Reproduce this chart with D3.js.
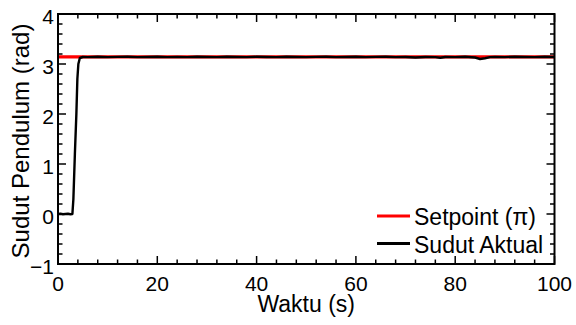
<!DOCTYPE html>
<html>
<head>
<meta charset="utf-8">
<script src="https://cdn.jsdelivr.net/npm/d3@7"></script>
<style>
  html, body { margin: 0; padding: 0; background: #fff; }
  svg { display: block; font-family: "Liberation Sans", Arial, sans-serif; }
</style>
</head>
<body>
<div id="chart"></div>
<script>
// setpoint is pi across the whole run
const setpointT = [0, 100];
const setpointV = [Math.PI, Math.PI];

const actualT = [0, 0.5, 1, 1.5, 2, 2.5, 2.9, 3.1, 3.4, 3.7, 3.9, 4.1, 4.4, 5,
  6, 8, 10, 12, 14, 16, 18, 20, 22, 24, 26, 28, 30, 32, 34, 36, 38, 40,
  42, 44, 46, 48, 50, 52, 54, 56, 58, 60, 62, 64, 66, 68, 70, 72, 74, 76,
  77, 78, 80, 82, 84, 85, 86, 87, 88, 90, 92, 94, 96, 98, 100];
const actualV = [0.0, 0.005, -0.005, 0.0, 0.005, -0.005, 0.0, 0.3, 1.2, 2.0, 2.7, 3.0, 3.12, 3.14,
  3.137, 3.145, 3.138, 3.142, 3.146, 3.137, 3.141, 3.145, 3.138, 3.142, 3.137, 3.145, 3.141, 3.137, 3.146, 3.141, 3.138, 3.145,
  3.141, 3.137, 3.145, 3.141, 3.138, 3.142, 3.146, 3.137, 3.141, 3.145, 3.138, 3.142, 3.145, 3.137, 3.141, 3.13, 3.141, 3.137,
  3.125, 3.141, 3.138, 3.145, 3.13, 3.1, 3.115, 3.137, 3.141, 3.138, 3.145, 3.141, 3.137, 3.145, 3.141];

const xTicks = [0, 20, 40, 60, 80, 100];
const yTicks = [-1, 0, 1, 2, 3, 4];
const legendItems = ["Setpoint (\u03c0)", "Sudut Aktual"];
const legendColors = ["#ff0000", "#000000"];

const width = 576, height = 325;
const margin = { left: 58, right: 21.5, top: 14, bottom: 61 };

const svg = d3.select("#chart").append("svg")
  .attr("width", width).attr("height", height);

const x = d3.scaleLinear().domain([0, 100]).range([margin.left, width - margin.right]);
const y = d3.scaleLinear().domain([-1, 4]).range([height - margin.bottom, margin.top]);

const x0 = x.range()[0], x1 = x.range()[1], y0 = y.range()[0], y1 = y.range()[1];

// ticks on all four sides, pointing inward
const ticks = svg.append("g").attr("stroke", "#000").attr("stroke-width", 1.5);
d3.range(0, 101, 4).forEach((t) => {
  const len = t % 20 === 0 ? 8 : 4.5;
  ticks.append("line").attr("x1", x(t)).attr("x2", x(t)).attr("y1", y0).attr("y2", y0 - len);
  ticks.append("line").attr("x1", x(t)).attr("x2", x(t)).attr("y1", y1).attr("y2", y1 + len);
});
d3.range(-1, 4.01, 0.2).forEach((v) => {
  const major = Math.abs(v - Math.round(v)) < 1e-6;
  const len = major ? 8 : 4.5;
  ticks.append("line").attr("y1", y(v)).attr("y2", y(v)).attr("x1", x0).attr("x2", x0 + len);
  ticks.append("line").attr("y1", y(v)).attr("y2", y(v)).attr("x1", x1).attr("x2", x1 - len);
});

const line = d3.line().x((d) => x(d[0])).y((d) => y(d[1]));

svg.append("path")
  .datum(d3.zip(setpointT, setpointV))
  .attr("d", line)
  .attr("fill", "none")
  .attr("stroke", legendColors[0])
  .attr("stroke-width", 3.2);

svg.append("path")
  .datum(d3.zip(actualT, actualV))
  .attr("d", line)
  .attr("fill", "none")
  .attr("stroke", legendColors[1])
  .attr("stroke-width", 2.4)
  .attr("stroke-linejoin", "round");

svg.append("rect")
  .attr("x", x0).attr("y", y1)
  .attr("width", x1 - x0).attr("height", y0 - y1)
  .attr("fill", "none").attr("stroke", "#000").attr("stroke-width", 2);

// tick labels
svg.append("g").selectAll("text").data(xTicks).join("text")
  .attr("x", (d) => x(d)).attr("y", y0 + 27)
  .attr("text-anchor", "middle").attr("font-size", 21)
  .text((d) => d);

svg.append("g").selectAll("text").data(yTicks).join("text")
  .attr("x", x0 - 4).attr("y", (d) => y(d) + 10)
  .attr("text-anchor", "end").attr("font-size", 21)
  .text((d) => (d < 0 ? "\u2212" + Math.abs(d) : d));

// axis titles
svg.append("text")
  .attr("x", (x0 + x1) / 2).attr("y", 312)
  .attr("text-anchor", "middle").attr("font-size", 23)
  .text("Waktu (s)");

svg.append("text")
  .attr("transform", "translate(29," + (y(1.5) + 2) + ") rotate(-90)")
  .attr("text-anchor", "middle").attr("font-size", 24)
  .text("Sudut Pendulum (rad)");

// legend
const legend = svg.append("g");
legendItems.forEach((name, i) => {
  const ly = 216 + i * 27.5;
  legend.append("line")
    .attr("x1", 377).attr("x2", 410).attr("y1", ly).attr("y2", ly)
    .attr("stroke", legendColors[i]).attr("stroke-width", 3);
  legend.append("text")
    .attr("x", 414).attr("y", ly + 9)
    .attr("font-size", 23)
    .text(name);
});
</script>
</body>
</html>
